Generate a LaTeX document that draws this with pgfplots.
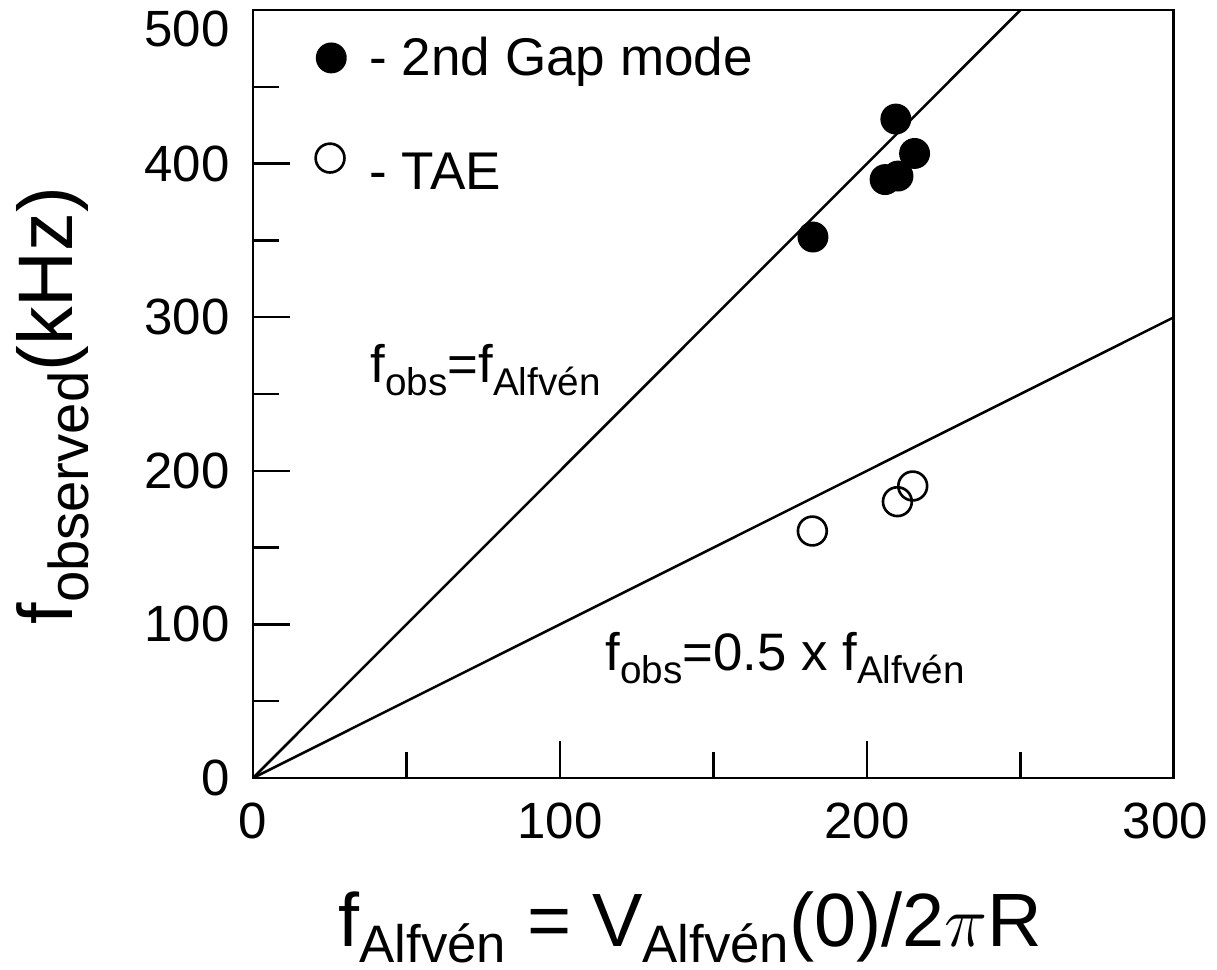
\documentclass[border=0pt]{standalone}
\usepackage{fontspec}
\setmainfont{Liberation Sans}
\usepackage{pgfplots}
\pgfplotsset{compat=1.18}
\newcommand{\lsub}[1]{\raisebox{-3.7pt}{\fontsize{11}{12}\selectfont #1}}
\newcommand{\xsub}[1]{\raisebox{-4.5pt}{\fontsize{15}{18}\selectfont #1}}
\newcommand{\ysub}[1]{\raisebox{-4.8pt}{\fontsize{16}{18}\selectfont #1}}
\begin{document}
\begin{tikzpicture}
\path (-2.53,-1.92) rectangle (9.64,7.78);
\begin{axis}[
  scale only axis, width=9.21cm, height=7.68cm,
  xmin=0, xmax=300, ymin=0, ymax=500,
  axis line style={line width=0.85pt},
  xtick={0,100,200}, minor xtick={50,150,250},
  extra x ticks={300}, extra x tick style={xticklabel style={xshift=-2.5pt}},
  ytick={0,100,200,300,400}, minor ytick={50,150,250,350,450},
  extra y ticks={500}, extra y tick style={yticklabel style={yshift=-5.5pt}},
  tick align=inside, xtick pos=bottom, ytick pos=left,
  major tick length=10.5pt, minor tick length=7.3pt,
  tick style={line width=0.65pt, black},
  tick label style={font=\fontsize{14.5}{16}\selectfont, inner sep=0pt},
  /pgf/number format/assume math mode=true,
  xticklabel style={yshift=-6.8pt},
  yticklabel style={xshift=-6.5pt},
  clip=false,
]
\addplot[black, line width=0.72pt] coordinates {(0,0) (250,500)};
\addplot[black, line width=0.72pt] coordinates {(0,0) (300,300)};
\addplot[only marks, mark=*, mark size=4.1pt, mark options={fill=black, draw=black, line width=0.6pt}]
  coordinates {(182.4,352.2) (209.4,429) (205.9,389.6) (210.1,391.9) (215.5,406.6) (25.5,468.8)};
\addplot[only marks, mark=o, mark size=4.1pt, mark options={draw=black, line width=0.75pt}]
  coordinates {(182.2,160.8) (209.9,179.9) (214.9,190.1) (25.1,403.6)};
\node[anchor=west, font=\fontsize{15.1}{18}\selectfont] at (axis cs:33.9,466) {- 2nd Gap mode};
\node[anchor=west, font=\fontsize{15.1}{18}\selectfont] at (axis cs:33.9,395) {- TAE};
\node[anchor=base west, inner sep=0pt, font=\fontsize{15}{16}\selectfont] at (axis cs:38.1,257.8) {f\lsub{obs}=f\lsub{Alfvén}};
\node[anchor=base west, inner sep=0pt, font=\fontsize{15}{16}\selectfont] at (axis cs:114.7,70.3) {f\lsub{obs}=0.5 x f\lsub{Alfvén}};
\node[anchor=base west, inner sep=0pt, font=\fontsize{21.5}{26}\selectfont] at (rel axis cs:0.0923,-0.220) {f\xsub{Alfvén} = V\xsub{Alfvén}(0)/2$\pi$R};
\node[anchor=base west, inner sep=0pt, rotate=90, font=\fontsize{22}{26}\selectfont] at (rel axis cs:-0.1965,0.199) {f\ysub{observed}(kHz)};
\end{axis}
\end{tikzpicture}
\end{document}
